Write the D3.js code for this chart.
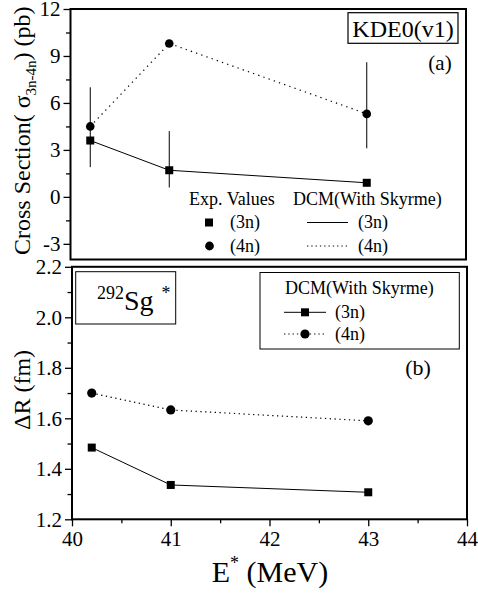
<!DOCTYPE html>
<html><head><meta charset="utf-8">
<script src="https://cdn.jsdelivr.net/npm/d3@7"></script>
<style>
html,body{margin:0;padding:0;background:#fff;}
svg{display:block;}
svg text{font-family:'Liberation Serif','DejaVu Serif','Times New Roman',Times,serif;}
</style></head>
<body><svg id="c" width="478" height="595"></svg>
<script>
// ---- data ----
const energies = [40.2, 41, 43];
// panel (a): cross sections (pb)
const exp3n = [3.6, 1.7, 0.9];
const exp4n = [4.5, 9.8, 5.3];
const dcm3n = [3.6, 1.7, 0.9];
const dcm4n = [4.5, 9.8, 5.3];
const errX = [40.2, 41, 43];
const errLow = [1.9, 0.6, 3.1];
const errHigh = [7.0, 4.2, 8.6];
// panel (b): delta R (fm)
const dr3n = [1.484, 1.336, 1.307];
const dr4n = [1.70, 1.633, 1.59];
// ticks
const xTicks = [40, 41, 42, 43, 44];
const xMinor = [40.5, 41.5, 42.5, 43.5];
const yTicksA = [-3, 0, 3, 6, 9, 12];
const yMinorA = [-1.5, 1.5, 4.5, 7.5, 10.5];
const yTicksB = [1.2, 1.4, 1.6, 1.8, 2.0, 2.2];
const yMinorB = [1.3, 1.5, 1.7, 1.9, 2.1];

const FONT = "Liberation Serif";
const svg = d3.select("#c").attr("font-family", FONT);
const black = "#000";

// ---- scales ----
const xA = d3.scaleLinear().domain([40, 44]).range([70.5, 465.5]);
const yA = d3.scaleLinear().domain([-4, 12]).range([259.5, 9]);
const xB = d3.scaleLinear().domain([40, 44]).range([72, 467]);
const yB = d3.scaleLinear().domain([1.2, 2.2]).range([519.3, 266.8]);

function styleAxis(g){
  g.attr("font-family", FONT);
  g.select(".domain").remove();
  g.selectAll("line").attr("stroke", black).attr("stroke-width", 1.3);
  g.selectAll("text").attr("fill", black).attr("font-size", 21).attr("font-family", FONT);
}

// ---- panel (a) ----
const ga = svg.append("g");
ga.append("g").attr("transform", `translate(${xA.range()[0]},0)`)
  .call(d3.axisLeft(yA).tickValues(yMinorA).tickSize(4.5).tickFormat(""))
  .call(styleAxis);
ga.append("g").attr("transform", `translate(${xA.range()[0]},0)`)
  .call(d3.axisLeft(yA).tickValues(yTicksA).tickSize(7).tickPadding(3).tickFormat(d => d < 0 ? "-" + Math.abs(d) : d))
  .call(styleAxis);

const lineA = d3.line().x((d, i) => xA(energies[i])).y(d => yA(d));
ga.append("path").datum(dcm3n).attr("d", lineA).attr("fill", "none").attr("stroke", black).attr("stroke-width", 1);
ga.append("path").datum(dcm4n).attr("d", lineA).attr("fill", "none").attr("stroke", black).attr("stroke-width", 1.2).attr("stroke-dasharray", "1.3,4.2");

ga.selectAll(".err").data(errX).enter().append("line")
  .attr("x1", d => xA(d)).attr("x2", d => xA(d))
  .attr("y1", (d, i) => yA(errLow[i])).attr("y2", (d, i) => yA(errHigh[i]))
  .attr("stroke", black).attr("stroke-width", 1);

ga.selectAll(".sq").data(exp3n).enter().append("rect")
  .attr("x", (d, i) => xA(energies[i]) - 4).attr("y", d => yA(d) - 4)
  .attr("width", 8).attr("height", 8).attr("fill", black);
ga.selectAll(".ci").data(exp4n).enter().append("circle")
  .attr("cx", (d, i) => xA(energies[i])).attr("cy", d => yA(d)).attr("r", 4.3).attr("fill", black);

ga.append("rect").attr("x", 70.5).attr("y", 9).attr("width", 395.5).attr("height", 250.5)
  .attr("fill", "none").attr("stroke", black).attr("stroke-width", 2);

// KDE0 box
ga.append("rect").attr("x", 348).attr("y", 12.7).attr("width", 110).attr("height", 30.6)
  .attr("fill", "none").attr("stroke", black).attr("stroke-width", 1.2);
ga.append("text").attr("x", 403).attr("y", 36.5).attr("text-anchor", "middle").attr("font-size", 24).text("KDE0(v1)");
ga.append("text").attr("x", 440).attr("y", 70).attr("text-anchor", "middle").attr("font-size", 21).text("(a)");

// legend (a)
const lg = ga.append("g").attr("font-size", 18);
lg.append("text").attr("x", 189).attr("y", 205).text("Exp. Values");
lg.append("text").attr("x", 293).attr("y", 205).text("DCM(With Skyrme)");
lg.append("rect").attr("x", 205).attr("y", 218.5).attr("width", 8).attr("height", 8).attr("fill", black);
lg.append("circle").attr("cx", 209.5).attr("cy", 246).attr("r", 4.4).attr("fill", black);
lg.append("text").attr("x", 230).attr("y", 228).text("(3n)");
lg.append("text").attr("x", 230).attr("y", 251.5).text("(4n)");
lg.append("line").attr("x1", 307).attr("x2", 348).attr("y1", 222.5).attr("y2", 222.5).attr("stroke", black).attr("stroke-width", 1);
lg.append("line").attr("x1", 307).attr("x2", 348).attr("y1", 246).attr("y2", 246).attr("stroke", black).attr("stroke-width", 1).attr("stroke-dasharray", "1.3,3");
lg.append("text").attr("x", 358).attr("y", 228).text("(3n)");
lg.append("text").attr("x", 358).attr("y", 251.5).text("(4n)");

// y label (a)
const ylabA = ga.append("text").attr("transform", "translate(30,255) rotate(-90)").attr("font-size", 24);
ylabA.append("tspan").text("Cross Section( σ");
ylabA.append("tspan").attr("font-size", 15).attr("dy", 6).text("3n-4n");
ylabA.append("tspan").attr("dy", -6).text(") (pb)");

// ---- panel (b) ----
const gb = svg.append("g");
gb.append("g").attr("transform", `translate(${xB.range()[0]},0)`)
  .call(d3.axisLeft(yB).tickValues(yMinorB).tickSize(4.5).tickFormat(""))
  .call(styleAxis);
gb.append("g").attr("transform", `translate(${xB.range()[0]},0)`)
  .call(d3.axisLeft(yB).tickValues(yTicksB).tickSize(7).tickPadding(3).tickFormat(d3.format(".1f")))
  .call(styleAxis);
gb.append("g").attr("transform", `translate(0,${yB.range()[0]})`)
  .call(d3.axisBottom(xB).tickValues(xMinor).tickSize(4).tickFormat(""))
  .call(styleAxis);
gb.append("g").attr("transform", `translate(0,${yB.range()[0]})`)
  .call(d3.axisBottom(xB).tickValues(xTicks).tickSize(7).tickPadding(5).tickFormat(d3.format("d")))
  .call(styleAxis);

const lineB = d3.line().x((d, i) => xB(energies[i])).y(d => yB(d));
gb.append("path").datum(dr3n).attr("d", lineB).attr("fill", "none").attr("stroke", black).attr("stroke-width", 1);
gb.append("path").datum(dr4n).attr("d", lineB).attr("fill", "none").attr("stroke", black).attr("stroke-width", 1.2).attr("stroke-dasharray", "1.3,3.5");
gb.selectAll(".sq").data(dr3n).enter().append("rect")
  .attr("x", (d, i) => xB(energies[i]) - 4).attr("y", d => yB(d) - 4)
  .attr("width", 8).attr("height", 8).attr("fill", black);
gb.selectAll(".ci").data(dr4n).enter().append("circle")
  .attr("cx", (d, i) => xB(energies[i])).attr("cy", d => yB(d)).attr("r", 4.6).attr("fill", black);

gb.append("rect").attr("x", 72).attr("y", 266.8).attr("width", 395).attr("height", 252.5)
  .attr("fill", "none").attr("stroke", black).attr("stroke-width", 2);

// Sg box
gb.append("rect").attr("x", 75.7).attr("y", 271.7).attr("width", 100).attr("height", 52.3)
  .attr("fill", "none").attr("stroke", black).attr("stroke-width", 1);
const sg = gb.append("text").attr("x", 97).attr("y", 310).attr("font-size", 28);
sg.append("tspan").attr("font-size", 18).attr("dy", -11).text("292");
sg.append("tspan").attr("dy", 11).text("Sg");
sg.append("tspan").attr("font-size", 18).attr("dy", -11).attr("dx", 8).text("*");

// legend (b)
gb.append("rect").attr("x", 260).attr("y", 272.5).attr("width", 199.3).attr("height", 76.5)
  .attr("fill", "none").attr("stroke", black).attr("stroke-width", 1);
const lb = gb.append("g").attr("font-size", 18);
lb.append("text").attr("x", 285).attr("y", 293.5).text("DCM(With Skyrme)");
lb.append("line").attr("x1", 284).attr("x2", 326).attr("y1", 312.3).attr("y2", 312.3).attr("stroke", black).attr("stroke-width", 1);
lb.append("rect").attr("x", 301).attr("y", 308.3).attr("width", 8).attr("height", 8).attr("fill", black);
lb.append("text").attr("x", 335).attr("y", 317.5).text("(3n)");
lb.append("line").attr("x1", 284).attr("x2", 326).attr("y1", 334).attr("y2", 334).attr("stroke", black).attr("stroke-width", 1).attr("stroke-dasharray", "1.3,3");
lb.append("circle").attr("cx", 305).attr("cy", 334).attr("r", 4.6).attr("fill", black);
lb.append("text").attr("x", 335).attr("y", 339.5).text("(4n)");

gb.append("text").attr("x", 418).attr("y", 375).attr("text-anchor", "middle").attr("font-size", 22).text("(b)");

// y label (b)
gb.append("text").attr("transform", "translate(30,390) rotate(-90)").attr("text-anchor", "middle").attr("font-size", 24).text("ΔR (fm)");

// x label
const xl = svg.append("text").attr("x", 270).attr("y", 582).attr("text-anchor", "middle").attr("font-size", 30);
xl.append("tspan").text("E");
xl.append("tspan").attr("font-size", 18).attr("dy", -13).text("*");
xl.append("tspan").attr("dy", 13).text(" (MeV)");
</script></body></html>
